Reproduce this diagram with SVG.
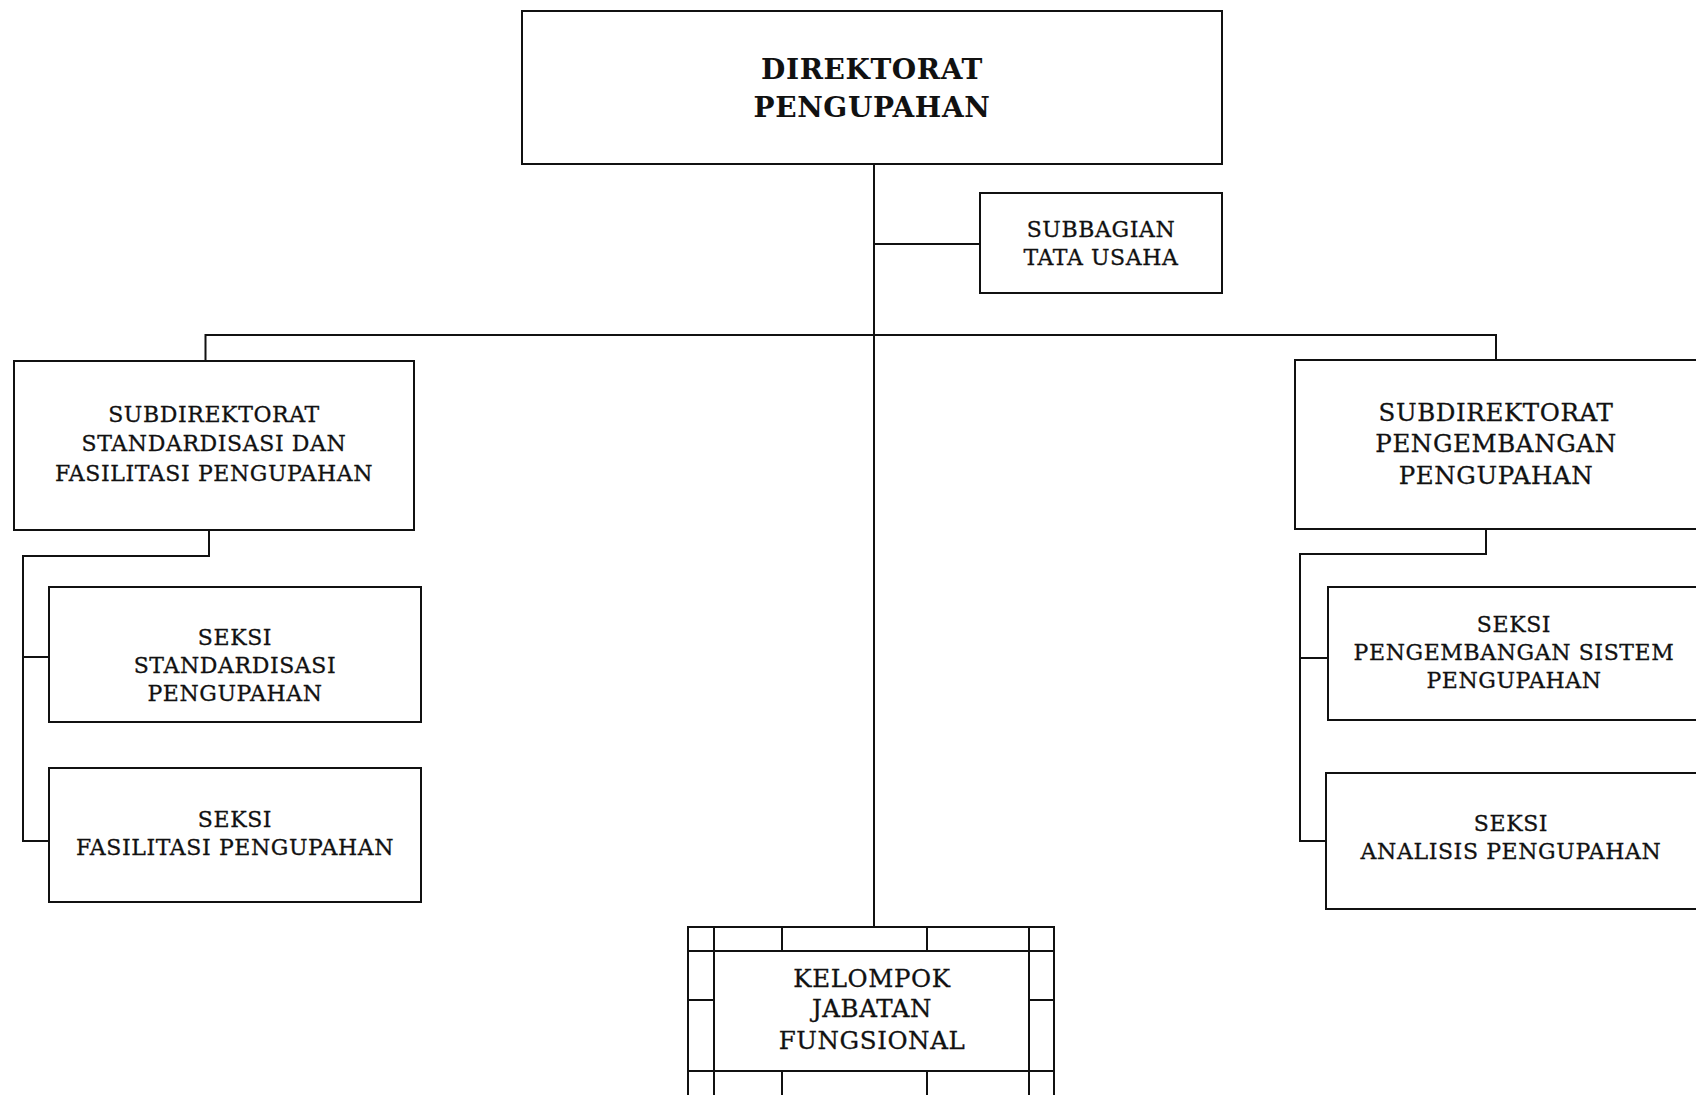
<svg xmlns="http://www.w3.org/2000/svg" width="1696" height="1095" viewBox="0 0 1696 1095">
  <style>
    .box { fill: #ffffff; stroke: #111111; stroke-width: 2; }
    .wire { fill: none; stroke: #111111; stroke-width: 2; }
    .lbl { font-family: "DejaVu Serif", "Liberation Serif", serif; font-size: 22px; fill: #111111; text-anchor: middle; letter-spacing: 0.6px; stroke: #111111; stroke-width: 0.3px; }
    .lbl.big { font-size: 24.5px; }
    .title { font-family: "DejaVu Serif", "Liberation Serif", serif; font-size: 28px; font-weight: bold; fill: #111111; text-anchor: middle; letter-spacing: 0.6px; }
  </style>
  <rect width="1696" height="1095" fill="#ffffff"/>

  <!-- connectors -->
  <g id="connectors" class="wire">
    <path d="M874,164 V927"/>
    <path d="M874,244 H980"/>
    <path d="M205.5,361 V335 H1496 V360"/>
    <path d="M209,530 V556 H23 V841 H49"/>
    <path d="M23,657 H49"/>
    <path d="M1486,529 V554 H1300 V841 H1326"/>
    <path d="M1300,658 H1328"/>
  </g>

  <!-- head of directorate -->
  <g id="direktorat">
    <rect class="box" x="522" y="11" width="700" height="153"/>
    <text class="title" x="872" y="79">DIREKTORAT</text>
    <text class="title" x="872" y="117">PENGUPAHAN</text>
  </g>

  <g id="subbagian-tu">
    <rect class="box" x="980" y="193" width="242" height="100"/>
    <text class="lbl" x="1101" y="237">SUBBAGIAN</text>
    <text class="lbl" x="1101" y="265">TATA USAHA</text>
  </g>

  <g id="subdit-standardisasi">
    <rect class="box" x="14" y="361" width="400" height="169"/>
    <text class="lbl" x="214" y="422">SUBDIREKTORAT</text>
    <text class="lbl" x="214" y="451">STANDARDISASI DAN</text>
    <text class="lbl" x="214" y="481">FASILITASI PENGUPAHAN</text>
  </g>

  <g id="seksi-standardisasi">
    <rect class="box" x="49" y="587" width="372" height="135"/>
    <text class="lbl" x="235" y="645">SEKSI</text>
    <text class="lbl" x="235" y="673">STANDARDISASI</text>
    <text class="lbl" x="235" y="701">PENGUPAHAN</text>
  </g>

  <g id="seksi-fasilitasi">
    <rect class="box" x="49" y="768" width="372" height="134"/>
    <text class="lbl" x="235" y="827">SEKSI</text>
    <text class="lbl" x="235" y="855">FASILITASI PENGUPAHAN</text>
  </g>

  <g id="subdit-pengembangan">
    <rect class="box" x="1295" y="360" width="420" height="169"/>
    <text class="lbl big" x="1496" y="421">SUBDIREKTORAT</text>
    <text class="lbl big" x="1496" y="452">PENGEMBANGAN</text>
    <text class="lbl big" x="1496" y="484">PENGUPAHAN</text>
  </g>

  <g id="seksi-pengembangan-sistem">
    <rect class="box" x="1328" y="587" width="400" height="133"/>
    <text class="lbl" x="1514" y="632">SEKSI</text>
    <text class="lbl" x="1514" y="660">PENGEMBANGAN SISTEM</text>
    <text class="lbl" x="1514" y="688">PENGUPAHAN</text>
  </g>

  <g id="seksi-analisis">
    <rect class="box" x="1326" y="773" width="400" height="136"/>
    <text class="lbl" x="1511" y="831">SEKSI</text>
    <text class="lbl" x="1511" y="859">ANALISIS PENGUPAHAN</text>
  </g>

  <!-- functional group: framed box with segmented border -->
  <g id="kelompok-jabatan-fungsional">
    <rect class="box" x="688" y="927" width="366" height="200"/>
    <rect class="box" x="714" y="951" width="315" height="120"/>
    <path class="wire" d="M714,927 V1095 M1029,927 V1095 M688,951 H1054 M688,1071 H1054 M782,927 V951 M927,927 V951 M782,1071 V1095 M927,1071 V1095 M688,1000 H714 M1029,1000 H1054"/>
    <text class="lbl big" x="872" y="987">KELOMPOK</text>
    <text class="lbl big" x="872" y="1017">JABATAN</text>
    <text class="lbl big" x="872" y="1049">FUNGSIONAL</text>
  </g>
</svg>
